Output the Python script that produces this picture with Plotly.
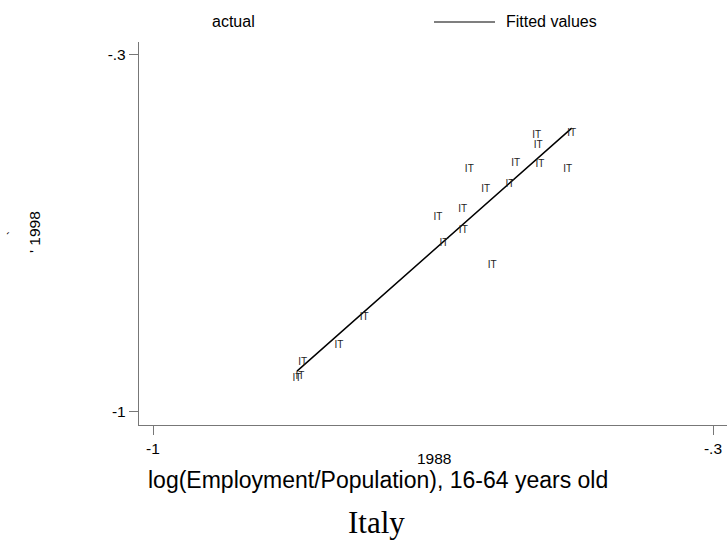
import numpy as np
import plotly.graph_objects as go

# log(Employment/Population), 16-64, 1988 (x) vs 1998 (y), Italian regions
x_1988 = [-0.4766, -0.5204, -0.5184, -0.6046, -0.5466, -0.5163, -0.4816,
          -0.5841, -0.5538, -0.6438, -0.6129, -0.6363, -0.6121, -0.5759,
          -0.7359, -0.7675, -0.8129, -0.8200, -0.8163]
y_1998 = [-0.4540, -0.4573, -0.4779, -0.5247, -0.5129, -0.5143, -0.5247,
          -0.5641, -0.5542, -0.6191, -0.6034, -0.6702, -0.6441, -0.7135,
          -0.8146, -0.8702, -0.9042, -0.9341, -0.9302]
labels = ["IT"] * len(x_1988)

x_ticks = [-1, -0.3]
x_tick_text = ["-1", "-.3"]
y_ticks = [-1, -0.3]
y_tick_text = ["-1", "-.3"]

xa = np.array(x_1988)
ya = np.array(y_1998)
b, a = np.polyfit(xa, ya, 1)
fitted = a + b * xa

fig = go.Figure()
fig.add_trace(go.Scatter(
    x=x_1988, y=fitted.tolist(), mode="lines",
    line=dict(color="black", width=1.5), hoverinfo="skip", showlegend=False))
fig.add_trace(go.Scatter(
    x=x_1988, y=y_1998, mode="text", text=labels,
    textposition="middle center",
    textfont=dict(family="Liberation Sans, Arial", size=10, color="#222"),
    showlegend=False))

axis_common = dict(showgrid=False, zeroline=False, showline=True,
                   linecolor="#777", linewidth=1.3, ticks="outside",
                   ticklen=9, tickwidth=1.2, tickcolor="#777",
                   tickfont=dict(family="Liberation Sans, Arial", size=15.5, color="black"))

fig.update_layout(
    width=727, height=550,
    margin=dict(l=139, r=0, t=42, b=125),
    paper_bgcolor="white", plot_bgcolor="white",
    xaxis=dict(range=[-1.0175, -0.2825], tickvals=x_ticks, ticktext=x_tick_text,
               **axis_common),
    yaxis=dict(range=[-1.0261, -0.2745], tickvals=y_ticks, ticktext=y_tick_text,
               **axis_common),
    showlegend=False,
)

def px_to_paper(px, py):
    return (px - 139) / 588.0, (425 - py) / 383.0

anns = []
def ann(text, px, py, size, xanchor="center", family="Liberation Sans, Arial", angle=0):
    x, y = px_to_paper(px, py)
    anns.append(dict(text=text, x=x, y=y, xref="paper", yref="paper",
                     xanchor=xanchor, yanchor="middle", showarrow=False,
                     textangle=angle,
                     font=dict(family=family, size=size, color="black")))

ann("actual", 210, 21.5, 16, xanchor="left")
ann("Fitted values", 504, 21.5, 16, xanchor="left")
ann("1988", 434, 458, 15.5)
ann("log(Employment/Population), 16-64 years old", 146, 480, 23, xanchor="left")
ann("Italy", 376, 522, 31, family="Liberation Serif, Times New Roman")
ann("' 1998", 34, 232, 15.5, angle=-90)
ann("`", 13, 233, 12, angle=-90)
fig.update_layout(annotations=anns)

lx0, ly = px_to_paper(434, 22)
lx1, _ = px_to_paper(495, 22)
fig.add_shape(type="line", xref="paper", yref="paper", x0=lx0, x1=lx1, y0=ly, y1=ly,
              line=dict(color="black", width=1.1))

fig.write_html(
    "out.html",
    config={"displayModeBar": False},
    post_script="document.body.style.margin='0';document.body.style.overflow='hidden';",
)
